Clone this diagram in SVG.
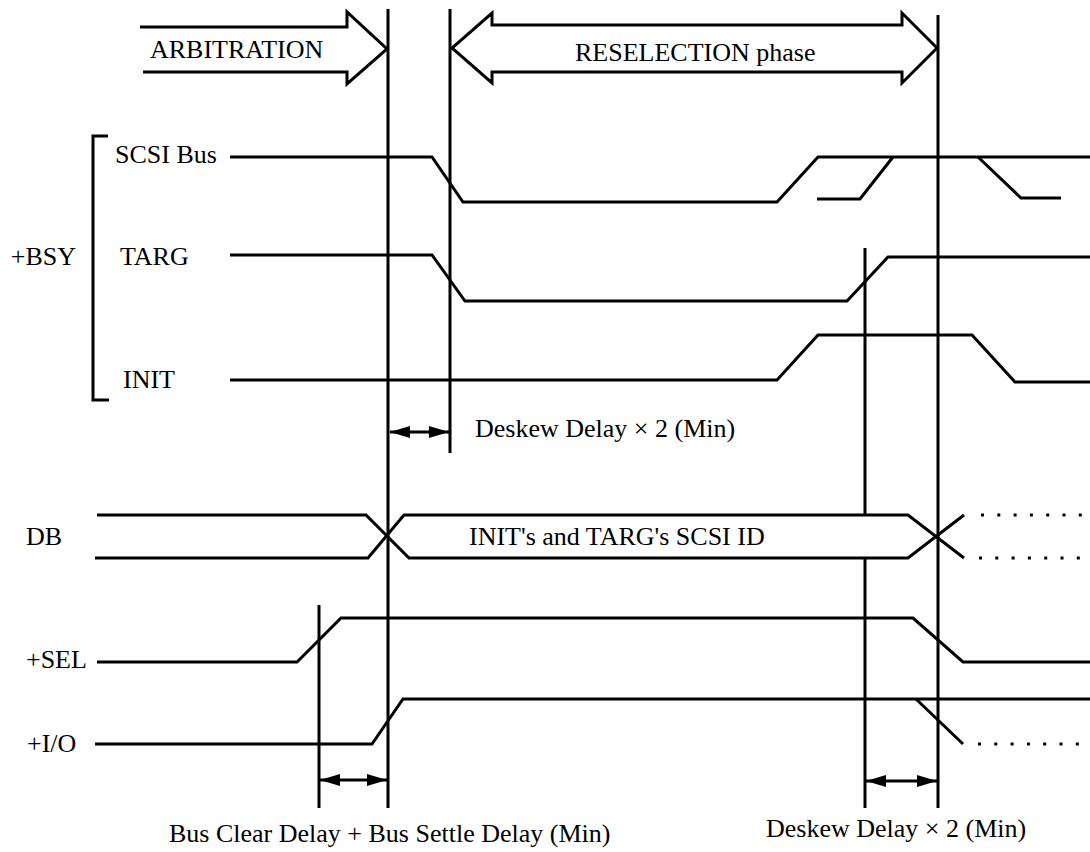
<svg xmlns="http://www.w3.org/2000/svg" width="1090" height="852" viewBox="0 0 1090 852">
<defs>
<style>
.t{font-family:"Liberation Serif","Times New Roman",serif;font-size:26px;fill:#000}
.s{fill:none;stroke:#000;stroke-width:3;stroke-linejoin:miter}
.v{stroke:#000;stroke-width:3}
.d{fill:none;stroke:#000;stroke-width:3;stroke-dasharray:3 13.3}
</style>
<marker id="ah" viewBox="0 0 20 12" refX="20" refY="6" markerWidth="20" markerHeight="12" markerUnits="userSpaceOnUse" orient="auto-start-reverse">
<path d="M0,0 L20,6 L0,12 Z" fill="#000"/>
</marker>
</defs>
<rect width="1090" height="852" fill="#fff"/>

<g id="timing-lines">
<line class="v" x1="388" y1="9" x2="388" y2="808"/>
<line class="v" x1="450" y1="9" x2="450" y2="453"/>
<line class="v" x1="938" y1="15" x2="938" y2="808"/>
<line class="v" x1="865" y1="248" x2="865" y2="515"/>
<line class="v" x1="865" y1="558" x2="865" y2="808"/>
<line class="v" x1="319" y1="605" x2="319" y2="808"/>
</g>

<g id="phase-arbitration">
<path class="s" d="M140,27 H347 V12 L387,49 L347,84 V72 H143"/>
<text class="t" x="150" y="58">ARBITRATION</text>
</g>

<g id="phase-reselection">
<path class="s" d="M492,25 H902 V13 L937,48 L902,83 V72 H492 V83 L452,48 L492,13 Z"/>
<text class="t" x="575" y="61">RESELECTION phase</text>
</g>

<g id="bsy-group">
<path class="s" d="M108,136 H93 V400 H109"/>
<text class="t" x="76" y="265" text-anchor="end">+BSY</text>
</g>

<g id="sig-scsibus">
<text class="t" x="115" y="163">SCSI Bus</text>
<polyline class="s" points="230,157 432,157 463,202 777,202 818,157 1090,157"/>
<polyline class="s" points="817,199 860,199 893,157"/>
<polyline class="s" points="978,157 1021,198 1061,198"/>
</g>

<g id="sig-targ">
<text class="t" x="120" y="265">TARG</text>
<polyline class="s" points="230,255 432,255 465,301 847,301 888,257 1090,257"/>
</g>

<g id="sig-init">
<text class="t" x="123" y="388">INIT</text>
<polyline class="s" points="230,380 777,380 818,335 972,335 1015,382 1090,382"/>
</g>

<g id="sig-db">
<text class="t" x="26" y="545">DB</text>
<path class="s" d="M97,515 H366 L409,558 H908 L964,515"/>
<path class="s" d="M95,558 H368 L404,515 H908 L964,558"/>
<line class="d" x1="981" y1="515" x2="1082" y2="515"/>
<line class="d" x1="979" y1="558" x2="1080" y2="558"/>
<text class="t" x="469" y="545">INIT's and TARG's SCSI ID</text>
</g>

<g id="sig-sel">
<text class="t" x="26" y="668">+SEL</text>
<polyline class="s" points="97,662 297,662 341,618 913,618 963,662 1090,662"/>
</g>

<g id="sig-io">
<text class="t" x="27" y="752">+I/O</text>
<polyline class="s" points="95,744 372,744 403,699 1090,699"/>
<polyline class="s" points="916,699 963,744"/>
<line class="d" x1="978" y1="744" x2="1080" y2="744"/>
</g>

<g id="connectors">
<line class="v" x1="390" y1="432" x2="449" y2="432" marker-start="url(#ah)" marker-end="url(#ah)"/>
<line class="v" x1="320" y1="780" x2="387" y2="780" marker-start="url(#ah)" marker-end="url(#ah)"/>
<line class="v" x1="866" y1="781" x2="937" y2="781" marker-start="url(#ah)" marker-end="url(#ah)"/>
</g>

<g id="labels">
<text class="t" x="475" y="437">Deskew Delay × 2 (Min)</text>
<text class="t" x="169" y="842">Bus Clear Delay + Bus Settle Delay (Min)</text>
<text class="t" x="766" y="837">Deskew Delay × 2 (Min)</text>
</g>
</svg>
